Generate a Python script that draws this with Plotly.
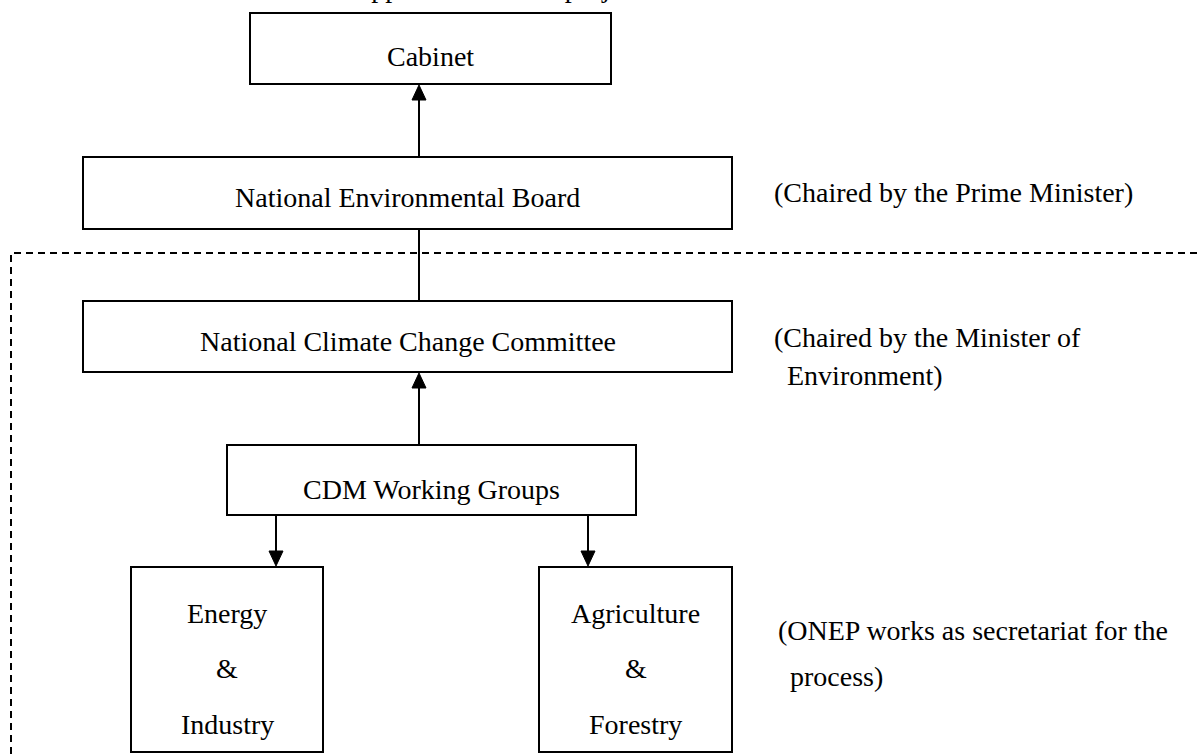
import plotly.graph_objects as go

# ---- content ----
title_text = "【Government structure for the approval of CDM projects】"
box_names = ["cabinet", "neb", "nccc", "cdm", "energy", "agri"]
box_lines = [
    ["Cabinet"],
    ["National Environmental Board"],
    ["National Climate Change Committee"],
    ["CDM Working Groups"],
    ["Energy", "&", "Industry"],
    ["Agriculture", "&", "Forestry"],
]
note_lines = [
    "(Chaired by the Prime Minister)",
    "(Chaired by the Minister of",
    "Environment)",
    "(ONEP works as secretariat for the",
    "process)",
]

# ---- layout geometry (pixels) ----
W, H = 1200, 754
box_geom = {  # x0, x1, y0, y1
    "cabinet": (250, 611, 13, 84),
    "neb": (83, 732, 157, 229),
    "nccc": (83, 732, 301, 372),
    "cdm": (227, 636, 445, 515),
    "energy": (131, 323, 567, 752),
    "agri": (539, 732, 567, 752),
}
line_y = {
    "cabinet": [56],
    "neb": [197],
    "nccc": [341],
    "cdm": [489],
    "energy": [613, 668, 724],
    "agri": [613, 668, 724],
}
note_pos = [(772, 192), (772, 337), (785, 375.5), (776, 630), (788, 676)]
# connectors: x, from box, to box, arrowhead?
connectors = [
    (419, "neb", "cabinet", True),
    (419, "nccc", "neb", False),
    (419, "cdm", "nccc", True),
    (276, "cdm", "energy", True),
    (588, "cdm", "agri", True),
]

FONT = "Liberation Serif, Times New Roman, Noto Serif CJK JP, Noto Sans CJK JP, serif"
FS = 28

fig = go.Figure()
shapes = []
annotations = []

for name, lines in zip(box_names, box_lines):
    x0, x1, y0, y1 = box_geom[name]
    shapes.append(dict(type="rect", xref="x", yref="y", x0=x0, x1=x1, y0=y0, y1=y1,
                       line=dict(color="black", width=2), fillcolor="rgba(0,0,0,0)"))
    cx = (x0 + x1) / 2
    for txt, ty in zip(lines, line_y[name]):
        annotations.append(dict(x=cx, y=ty, xref="x", yref="y", text=txt, showarrow=False,
                                xanchor="center", yanchor="middle",
                                font=dict(family=FONT, size=FS, color="black")))

for txt, (nx, ny) in zip(note_lines, note_pos):
    annotations.append(dict(x=nx, y=ny, xref="x", yref="y", text=txt, showarrow=False,
                            xanchor="left", yanchor="middle",
                            font=dict(family=FONT, size=FS, color="black")))

# dashed boundary
shapes.append(dict(type="path", xref="x", yref="y", path=f"M 11 {H} L 11 253 L {W} 253",
                   line=dict(color="black", width=2, dash="7px,5px")))

AW, AL = 14, 15
for x, src, dst, head in connectors:
    sy0, sy1 = box_geom[src][2], box_geom[src][3]
    dy0, dy1 = box_geom[dst][2], box_geom[dst][3]
    if dy1 < sy0:  # destination above
        y_start, y_tip, d = sy0, dy1 + 1, 1
    else:
        y_start, y_tip, d = sy1, dy0 - 1, -1
    y_base = y_tip + d * AL if head else y_tip
    shapes.append(dict(type="line", xref="x", yref="y", x0=x, x1=x, y0=y_start,
                       y1=y_base if head else y_tip - d,
                       line=dict(color="black", width=2)))
    if head:
        shapes.append(dict(type="path", xref="x", yref="y",
                           path=f"M {x} {y_tip} L {x - AW/2} {y_base} L {x + AW/2} {y_base} Z",
                           fillcolor="black", line=dict(color="black", width=1)))

annotations.append(dict(x=0, y=1, xref="paper", yref="paper", text=title_text, showarrow=False,
                        xanchor="left", yanchor="bottom", xshift=-4, yshift=-5,
                        font=dict(family=FONT, size=FS, color="black")))

fig.update_layout(
    width=W, height=H, margin=dict(l=0, r=0, t=0, b=0),
    paper_bgcolor="white", plot_bgcolor="white",
    xaxis=dict(range=[0, W], visible=False, fixedrange=True),
    yaxis=dict(range=[H, 0], visible=False, fixedrange=True),
    shapes=shapes, annotations=annotations, showlegend=False,
)
fig.write_html("out.html", config={"displayModeBar": False},
               post_script="document.body.style.margin='0';document.body.style.overflow='hidden';")
